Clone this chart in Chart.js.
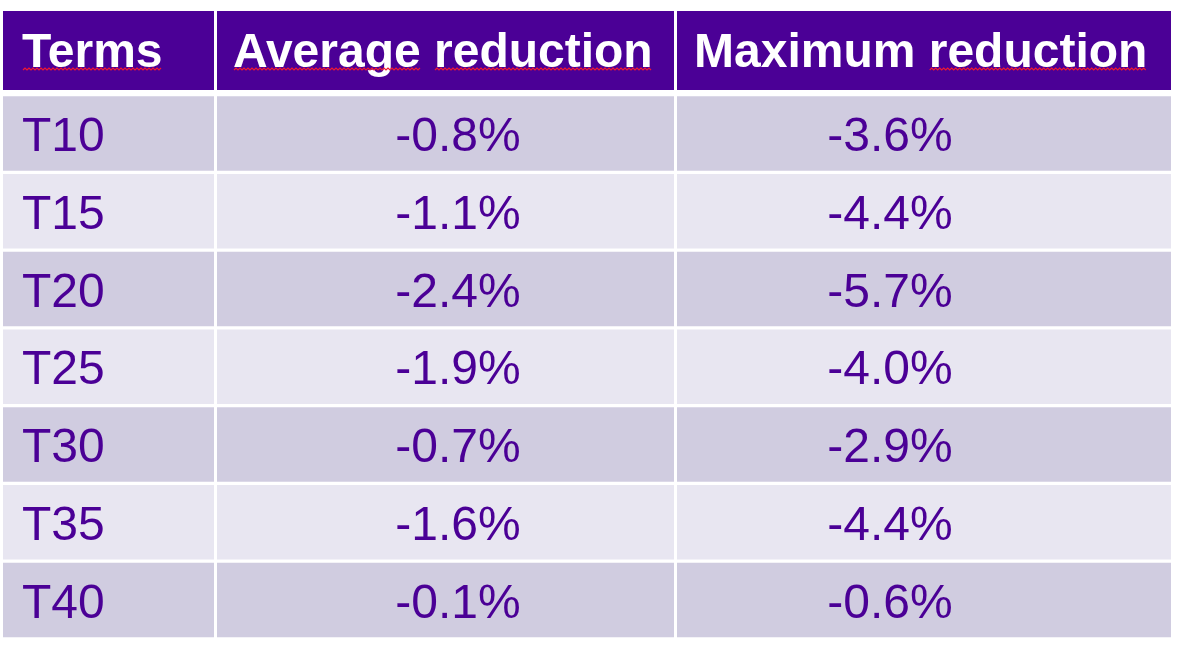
<!DOCTYPE html>
<html>
<head>
<meta charset="utf-8">
<script src="https://cdn.jsdelivr.net/npm/chart.js@4.4.1/dist/chart.umd.min.js"></script>
<style>
  html, body { margin: 0; padding: 0; background: #ffffff; }
  #wrap { width: 1179px; height: 645px; position: relative; }
</style>
</head>
<body>
<div id="wrap"><canvas id="tableChart"></canvas></div>
<script>
// table content
const headers = ['Terms', 'Average reduction', 'Maximum reduction'];
const terms = ['T10', 'T15', 'T20', 'T25', 'T30', 'T35', 'T40'];
const avgReduction = [-0.8, -1.1, -2.4, -1.9, -0.7, -1.6, -0.1];
const maxReduction = [-3.6, -4.4, -5.7, -4.0, -2.9, -4.4, -0.6];
// words the spell checker marked with a red squiggle in the header
const flaggedWords = ['Terms', 'Average', 'reduction'];

// layout (x axis units = pixels from the table's left edge)
const colEdges = [0, 211, 671, 1168];
const cellGap = 3;
const headerTextX = [19, 230, 691];
const bodyTextX = [19, 455, 887];   // col 1 left aligned, others centred
const bodyAlign = ['left', 'center', 'center'];
const headerBand = 83.6;            // height of the top axis box that holds the header
const headerCell = 79;

const purple = '#4B0096';
const rowDark = '#D0CCE0';
const rowLight = '#E8E6F1';

const rowColors = terms.map((t, i) => i % 2 === 0 ? rowDark : rowLight);

// one floating bar dataset per column: each bar is a body cell
const datasets = headers.map((h, c) => ({
    label: h,
    data: terms.map(() => [colEdges[c] + (c === 0 ? 0 : cellGap), colEdges[c + 1]]),
    backgroundColor: rowColors,
    borderWidth: 0,
    grouped: false,
    barPercentage: 0.958,
    categoryPercentage: 1
}));

function cellText(row, col) {
    if (col === 0) return terms[row];
    const v = col === 1 ? avgReduction[row] : maxReduction[row];
    return v.toFixed(1) + '%';
}

function squiggle(ctx, x0, x1, y) {
    ctx.save();
    ctx.strokeStyle = '#F01830';
    ctx.lineWidth = 1.2;
    ctx.beginPath();
    let up = true;
    ctx.moveTo(x0, y);
    for (let x = x0 + 2; x <= x1; x += 2) {
        ctx.lineTo(x, up ? y - 2 : y);
        up = !up;
    }
    ctx.stroke();
    ctx.restore();
}

// header cells sit in the top x axis box; body texts at scale positions
const tableText = {
    id: 'tableText',
    afterDatasetsDraw(chart) {
        const ctx = chart.ctx;
        const xs = chart.scales.x, ys = chart.scales.y;
        ctx.save();
        // header row
        const hTop = xs.top;
        ctx.fillStyle = purple;
        headers.forEach((h, c) => {
            const x0 = xs.getPixelForValue(colEdges[c] + (c === 0 ? 0 : cellGap));
            const x1 = xs.getPixelForValue(colEdges[c + 1]);
            ctx.fillRect(x0, hTop, x1 - x0, headerCell);
        });
        ctx.font = 'bold 48px "Liberation Sans", Arial, sans-serif';
        ctx.fillStyle = '#ffffff';
        ctx.textAlign = 'left';
        ctx.textBaseline = 'alphabetic';
        const hBase = hTop + headerCell / 2 + 16.5;
        headers.forEach((h, c) => {
            const x = xs.getPixelForValue(headerTextX[c]);
            ctx.fillText(h, x, hBase);
            // red squiggles under flagged words
            let wx = x;
            h.split(' ').forEach(w => {
                const ww = ctx.measureText(w).width;
                if (flaggedWords.includes(w)) squiggle(ctx, wx + 1, wx + ww, hBase + 3);
                wx += ww + ctx.measureText(' ').width;
            });
        });
        // body rows
        ctx.font = '48px "Liberation Sans", Arial, sans-serif';
        ctx.fillStyle = purple;
        terms.forEach((t, r) => {
            const y = ys.getPixelForValue(r) + 17.5;
            for (let c = 0; c < 3; c++) {
                ctx.textAlign = bodyAlign[c];
                ctx.fillText(cellText(r, c), xs.getPixelForValue(bodyTextX[c]), y);
            }
        });
        ctx.restore();
    }
};

let tableChart = document.getElementById('tableChart').getContext('2d');
new Chart(tableChart, {
    type: 'bar',
    data: { labels: terms, datasets: datasets },
    options: {
        indexAxis: 'y',
        responsive: true,
        maintainAspectRatio: false,
        animation: false,
        devicePixelRatio: 1,
        layout: { padding: { left: 3, right: 8, top: 11, bottom: 6 } },
        scales: {
            x: {
                type: 'linear', min: 0, max: 1168, position: 'top',
                grid: { display: false },
                border: { display: false },
                ticks: { display: false },
                afterFit(scale) { scale.height = headerBand; }
            },
            y: { type: 'category', display: false, offset: true }
        },
        plugins: {
            legend: { display: false },
            tooltip: { enabled: false }
        }
    },
    plugins: [tableText]
});
</script>
</body>
</html>
